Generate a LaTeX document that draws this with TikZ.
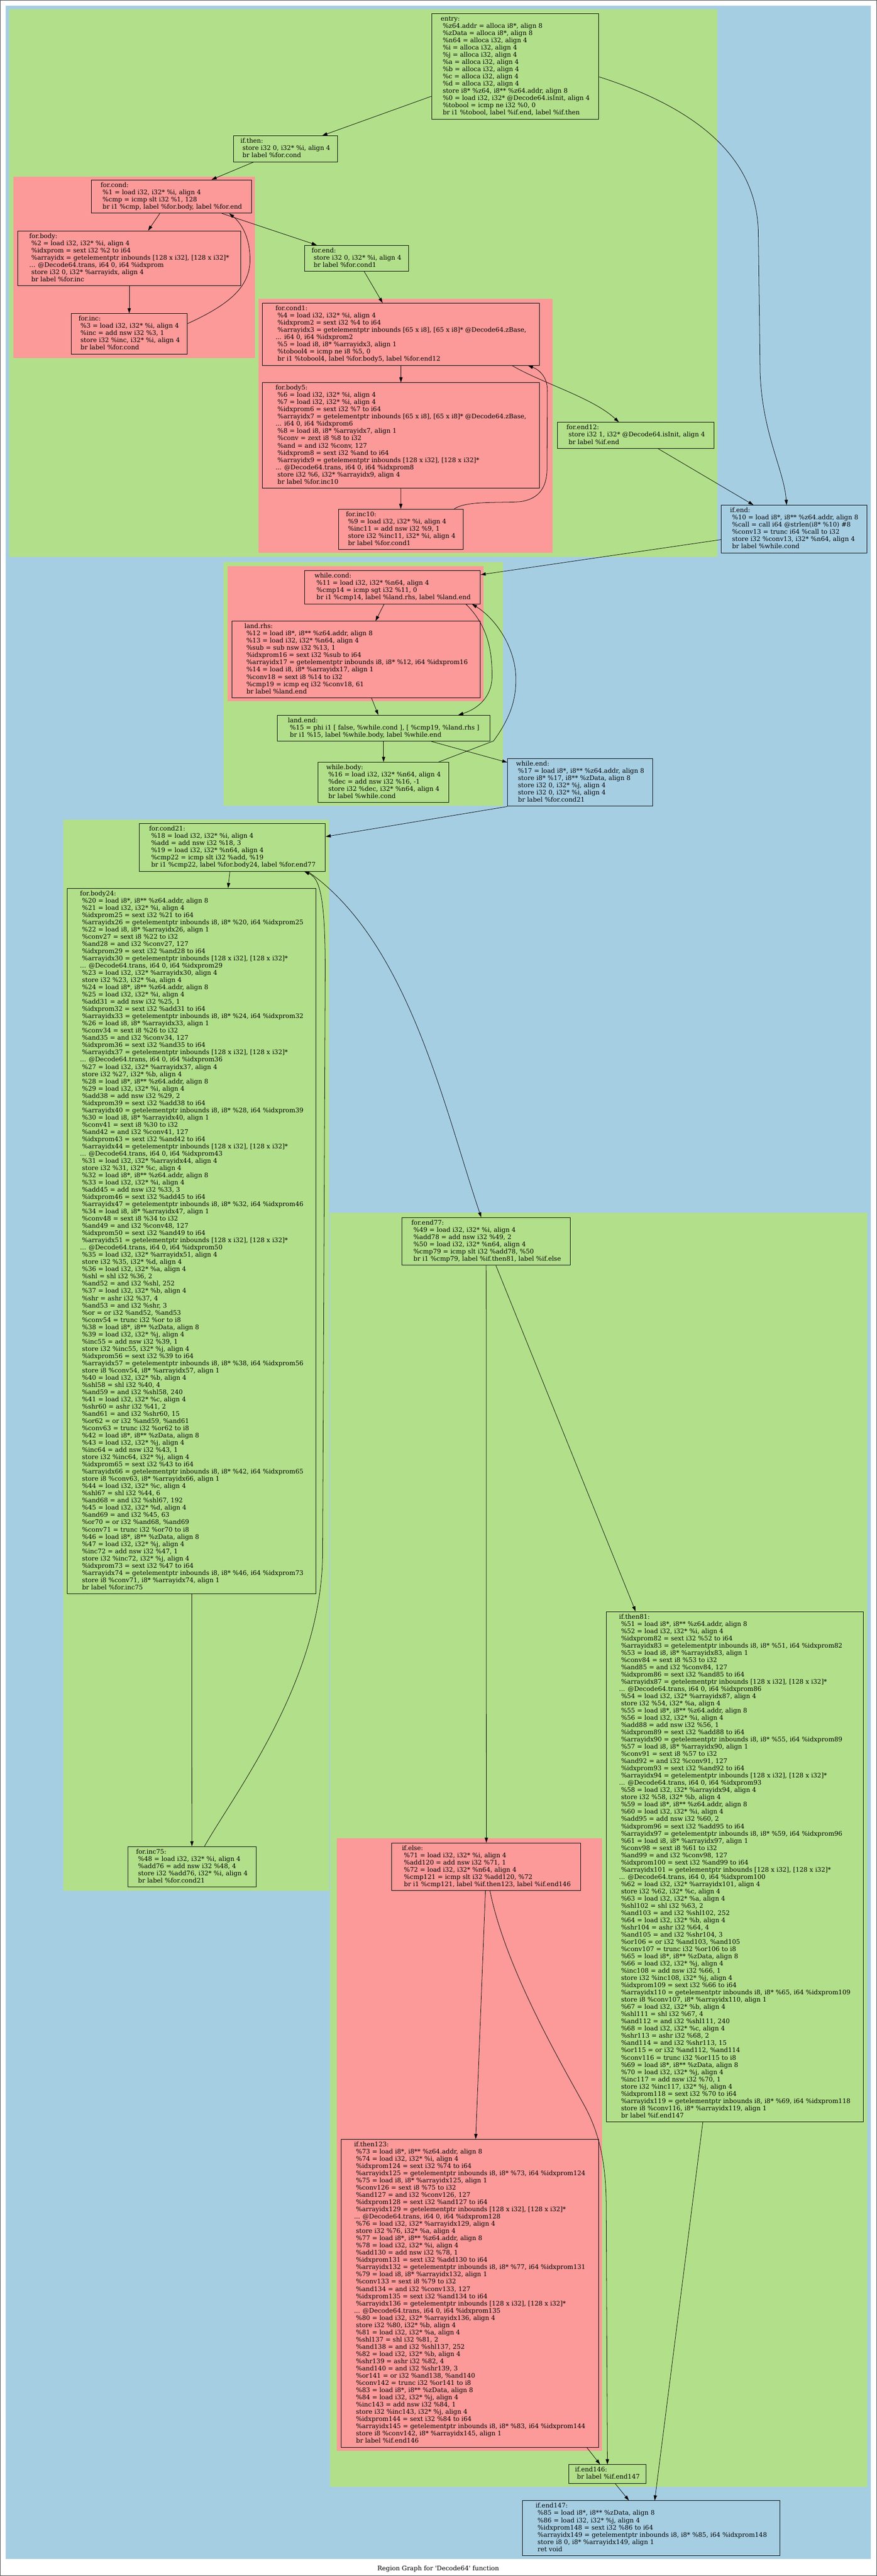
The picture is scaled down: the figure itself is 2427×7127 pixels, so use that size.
\documentclass[tikz,border=0pt]{standalone}
\usepackage{fontspec}
\usetikzlibrary{arrows.meta,calc}
\newfontfamily\irfont{DejaVu Serif}
\newcommand\blkfont{\irfont\fontsize{17.5}{20}\selectfont}
\newcommand\irtab[1]{\begin{tabular}{@{}l@{}}#1\end{tabular}}
\definecolor{grnclu}{HTML}{B2DF8A}
\definecolor{bluclu}{HTML}{A6CEE3}
\definecolor{redclu}{HTML}{FB9A99}
\tikzset{
  bb/.style={draw=black, line width=1.4pt, fill=#1, anchor=north west,
    inner xsep=11pt, inner ysep=6pt, font=\blkfont},
  flow/.style={draw=black, line width=1.1pt, -{Triangle[length=14pt,width=9pt]}},
}

\begin{document}
\begin{tikzpicture}[x=1pt,y=-1pt]
    \useasboundingbox (0,0) rectangle (2427,7127);
    \draw[gray!60!black, line width=1.5pt] (0.75,0.75) rectangle (2426.25,7126.25);

    % Draw clusters
    \fill[bluclu] (15,15) rectangle (2410,7080);
    \fill[grnclu] (25,26) rectangle (1986,1541);
    \fill[redclu] (37,489) rectangle (705,990);
    \fill[redclu] (715,827) rectangle (1530,1530);
    \fill[grnclu] (619,1555) rectangle (1393,2230);
    \fill[redclu] (630,1566) rectangle (1339,1940);
    \fill[grnclu] (176,2268) rectangle (911,5231);
    \fill[grnclu] (914,3356) rectangle (2400,6880);
    \fill[redclu] (932,5086) rectangle (1666,6780);

%Add blocks
    \node[bb=grnclu, minimum width=463] (entry) at (1194,37) {\irtab{entry:\\
      \ \%z64.addr = alloca i8*, align 8\\
      \ \%zData = alloca i8*, align 8\\
      \ \%n64 = alloca i32, align 4\\
      \ \%i = alloca i32, align 4\\
      \ \%j = alloca i32, align 4\\
      \ \%a = alloca i32, align 4\\
      \ \%b = alloca i32, align 4\\
      \ \%c = alloca i32, align 4\\
      \ \%d = alloca i32, align 4\\
      \ store i8* \%z64, i8** \%z64.addr, align 8\\
      \ \%0 = load i32, i32* @Decode64.isInit, align 4\\
      \ \%tobool = icmp ne i32 \%0, 0\\
      \ br i1 \%tobool, label \%if.end, label \%if.then}};
    \node[bb=grnclu, minimum width=288] (ifthen) at (645,375) {\irtab{if.then:\\
      \ store i32 0, i32* \%i, align 4\\
      \ br label \%for.cond}};
    \node[bb=redclu, minimum width=443] (forcond) at (252,497) {\irtab{for.cond:\\
      \ \%1 = load i32, i32* \%i, align 4\\
      \ \%cmp = icmp slt i32 \%1, 128\\
      \ br i1 \%cmp, label \%for.body, label \%for.end}};
    \node[bb=redclu, minimum width=618] (forbody) at (48,638) {\irtab{for.body:\\
      \ \%2 = load i32, i32* \%i, align 4\\
      \ \%idxprom = sext i32 \%2 to i64\\
      \ \%arrayidx = getelementptr inbounds [128 x i32], [128 x i32]*\\
      ... @Decode64.trans, i64 0, i64 \%idxprom\\
      \ store i32 0, i32* \%arrayidx, align 4\\
      \ br label \%for.inc}};
    \node[bb=redclu, minimum width=322] (forinc) at (196,867) {\irtab{for.inc:\\
      \ \%3 = load i32, i32* \%i, align 4\\
      \ \%inc = add nsw i32 \%3, 1\\
      \ store i32 \%inc, i32* \%i, align 4\\
      \ br label \%for.cond}};
    \node[bb=grnclu, minimum width=288] (forend) at (842,678) {\irtab{for.end:\\
      \ store i32 0, i32* \%i, align 4\\
      \ br label \%for.cond1}};
    \node[bb=redclu, minimum width=768] (forcond1) at (725,838) {\irtab{for.cond1:\\
      \ \%4 = load i32, i32* \%i, align 4\\
      \ \%idxprom2 = sext i32 \%4 to i64\\
      \ \%arrayidx3 = getelementptr inbounds [65 x i8], [65 x i8]* @Decode64.zBase,\\
      ... i64 0, i64 \%idxprom2\\
      \ \%5 = load i8, i8* \%arrayidx3, align 1\\
      \ \%tobool4 = icmp ne i8 \%5, 0\\
      \ br i1 \%tobool4, label \%for.body5, label \%for.end12}};
    \node[bb=redclu, minimum width=768] (forbody5) at (725,1058) {\irtab{for.body5:\\
      \ \%6 = load i32, i32* \%i, align 4\\
      \ \%7 = load i32, i32* \%i, align 4\\
      \ \%idxprom6 = sext i32 \%7 to i64\\
      \ \%arrayidx7 = getelementptr inbounds [65 x i8], [65 x i8]* @Decode64.zBase,\\
      ... i64 0, i64 \%idxprom6\\
      \ \%8 = load i8, i8* \%arrayidx7, align 1\\
      \ \%conv = zext i8 \%8 to i32\\
      \ \%and = and i32 \%conv, 127\\
      \ \%idxprom8 = sext i32 \%and to i64\\
      \ \%arrayidx9 = getelementptr inbounds [128 x i32], [128 x i32]*\\
      ... @Decode64.trans, i64 0, i64 \%idxprom8\\
      \ store i32 \%6, i32* \%arrayidx9, align 4\\
      \ br label \%for.inc10}};
    \node[bb=redclu, minimum width=345] (forinc10) at (936,1408) {\irtab{for.inc10:\\
      \ \%9 = load i32, i32* \%i, align 4\\
      \ \%inc11 = add nsw i32 \%9, 1\\
      \ store i32 \%inc11, i32* \%i, align 4\\
      \ br label \%for.cond1}};
    \node[bb=grnclu, minimum width=434] (forend12) at (1542,1168) {\irtab{for.end12:\\
      \ store i32 1, i32* @Decode64.isInit, align 4\\
      \ br label \%if.end}};
    \node[bb=bluclu, minimum width=403] (ifend) at (1996,1397) {\irtab{if.end:\\
      \ \%10 = load i8*, i8** \%z64.addr, align 8\\
      \ \%call = call i64 @strlen(i8* \%10) \#8\\
      \ \%conv13 = trunc i64 \%call to i32\\
      \ store i32 \%conv13, i32* \%n64, align 4\\
      \ br label \%while.cond}};
    \node[bb=redclu, minimum width=486] (whilecond) at (843,1578) {\irtab{while.cond:\\
      \ \%11 = load i32, i32* \%n64, align 4\\
      \ \%cmp14 = icmp sgt i32 \%11, 0\\
      \ br i1 \%cmp14, label \%land.rhs, label \%land.end}};
    \node[bb=redclu, minimum width=688] (landrhs) at (641,1718) {\irtab{land.rhs:\\
      \ \%12 = load i8*, i8** \%z64.addr, align 8\\
      \ \%13 = load i32, i32* \%n64, align 4\\
      \ \%sub = sub nsw i32 \%13, 1\\
      \ \%idxprom16 = sext i32 \%sub to i64\\
      \ \%arrayidx17 = getelementptr inbounds i8, i8* \%12, i64 \%idxprom16\\
      \ \%14 = load i8, i8* \%arrayidx17, align 1\\
      \ \%conv18 = sext i8 \%14 to i32\\
      \ \%cmp19 = icmp eq i32 \%conv18, 61\\
      \ br label \%land.end}};
    \node[bb=grnclu, minimum width=588] (landend) at (767,1978) {\irtab{land.end:\\
      \ \%15 = phi i1 [ false, \%while.cond ], [ \%cmp19, \%land.rhs ]\\
      \ br i1 \%15, label \%while.body, label \%while.end}};
    \node[bb=grnclu, minimum width=362] (whilebody) at (880,2108) {\irtab{while.body:\\
      \ \%16 = load i32, i32* \%n64, align 4\\
      \ \%dec = add nsw i32 \%16, -1\\
      \ store i32 \%dec, i32* \%n64, align 4\\
      \ br label \%while.cond}};
    \node[bb=bluclu, minimum width=402] (whileend) at (1404,2098) {\irtab{while.end:\\
      \ \%17 = load i8*, i8** \%z64.addr, align 8\\
      \ store i8* \%17, i8** \%zData, align 8\\
      \ store i32 0, i32* \%j, align 4\\
      \ store i32 0, i32* \%i, align 4\\
      \ br label \%for.cond21}};
    \node[bb=grnclu, minimum width=515] (forcond21) at (385,2278) {\irtab{for.cond21:\\
      \ \%18 = load i32, i32* \%i, align 4\\
      \ \%add = add nsw i32 \%18, 3\\
      \ \%19 = load i32, i32* \%n64, align 4\\
      \ \%cmp22 = icmp slt i32 \%add, \%19\\
      \ br i1 \%cmp22, label \%for.body24, label \%for.end77}};
    \node[bb=grnclu, minimum width=688] (forbody24) at (186,2457) {\irtab{for.body24:\\
      \ \%20 = load i8*, i8** \%z64.addr, align 8\\
      \ \%21 = load i32, i32* \%i, align 4\\
      \ \%idxprom25 = sext i32 \%21 to i64\\
      \ \%arrayidx26 = getelementptr inbounds i8, i8* \%20, i64 \%idxprom25\\
      \ \%22 = load i8, i8* \%arrayidx26, align 1\\
      \ \%conv27 = sext i8 \%22 to i32\\
      \ \%and28 = and i32 \%conv27, 127\\
      \ \%idxprom29 = sext i32 \%and28 to i64\\
      \ \%arrayidx30 = getelementptr inbounds [128 x i32], [128 x i32]*\\
      ... @Decode64.trans, i64 0, i64 \%idxprom29\\
      \ \%23 = load i32, i32* \%arrayidx30, align 4\\
      \ store i32 \%23, i32* \%a, align 4\\
      \ \%24 = load i8*, i8** \%z64.addr, align 8\\
      \ \%25 = load i32, i32* \%i, align 4\\
      \ \%add31 = add nsw i32 \%25, 1\\
      \ \%idxprom32 = sext i32 \%add31 to i64\\
      \ \%arrayidx33 = getelementptr inbounds i8, i8* \%24, i64 \%idxprom32\\
      \ \%26 = load i8, i8* \%arrayidx33, align 1\\
      \ \%conv34 = sext i8 \%26 to i32\\
      \ \%and35 = and i32 \%conv34, 127\\
      \ \%idxprom36 = sext i32 \%and35 to i64\\
      \ \%arrayidx37 = getelementptr inbounds [128 x i32], [128 x i32]*\\
      ... @Decode64.trans, i64 0, i64 \%idxprom36\\
      \ \%27 = load i32, i32* \%arrayidx37, align 4\\
      \ store i32 \%27, i32* \%b, align 4\\
      \ \%28 = load i8*, i8** \%z64.addr, align 8\\
      \ \%29 = load i32, i32* \%i, align 4\\
      \ \%add38 = add nsw i32 \%29, 2\\
      \ \%idxprom39 = sext i32 \%add38 to i64\\
      \ \%arrayidx40 = getelementptr inbounds i8, i8* \%28, i64 \%idxprom39\\
      \ \%30 = load i8, i8* \%arrayidx40, align 1\\
      \ \%conv41 = sext i8 \%30 to i32\\
      \ \%and42 = and i32 \%conv41, 127\\
      \ \%idxprom43 = sext i32 \%and42 to i64\\
      \ \%arrayidx44 = getelementptr inbounds [128 x i32], [128 x i32]*\\
      ... @Decode64.trans, i64 0, i64 \%idxprom43\\
      \ \%31 = load i32, i32* \%arrayidx44, align 4\\
      \ store i32 \%31, i32* \%c, align 4\\
      \ \%32 = load i8*, i8** \%z64.addr, align 8\\
      \ \%33 = load i32, i32* \%i, align 4\\
      \ \%add45 = add nsw i32 \%33, 3\\
      \ \%idxprom46 = sext i32 \%add45 to i64\\
      \ \%arrayidx47 = getelementptr inbounds i8, i8* \%32, i64 \%idxprom46\\
      \ \%34 = load i8, i8* \%arrayidx47, align 1\\
      \ \%conv48 = sext i8 \%34 to i32\\
      \ \%and49 = and i32 \%conv48, 127\\
      \ \%idxprom50 = sext i32 \%and49 to i64\\
      \ \%arrayidx51 = getelementptr inbounds [128 x i32], [128 x i32]*\\
      ... @Decode64.trans, i64 0, i64 \%idxprom50\\
      \ \%35 = load i32, i32* \%arrayidx51, align 4\\
      \ store i32 \%35, i32* \%d, align 4\\
      \ \%36 = load i32, i32* \%a, align 4\\
      \ \%shl = shl i32 \%36, 2\\
      \ \%and52 = and i32 \%shl, 252\\
      \ \%37 = load i32, i32* \%b, align 4\\
      \ \%shr = ashr i32 \%37, 4\\
      \ \%and53 = and i32 \%shr, 3\\
      \ \%or = or i32 \%and52, \%and53\\
      \ \%conv54 = trunc i32 \%or to i8\\
      \ \%38 = load i8*, i8** \%zData, align 8\\
      \ \%39 = load i32, i32* \%j, align 4\\
      \ \%inc55 = add nsw i32 \%39, 1\\
      \ store i32 \%inc55, i32* \%j, align 4\\
      \ \%idxprom56 = sext i32 \%39 to i64\\
      \ \%arrayidx57 = getelementptr inbounds i8, i8* \%38, i64 \%idxprom56\\
      \ store i8 \%conv54, i8* \%arrayidx57, align 1\\
      \ \%40 = load i32, i32* \%b, align 4\\
      \ \%shl58 = shl i32 \%40, 4\\
      \ \%and59 = and i32 \%shl58, 240\\
      \ \%41 = load i32, i32* \%c, align 4\\
      \ \%shr60 = ashr i32 \%41, 2\\
      \ \%and61 = and i32 \%shr60, 15\\
      \ \%or62 = or i32 \%and59, \%and61\\
      \ \%conv63 = trunc i32 \%or62 to i8\\
      \ \%42 = load i8*, i8** \%zData, align 8\\
      \ \%43 = load i32, i32* \%j, align 4\\
      \ \%inc64 = add nsw i32 \%43, 1\\
      \ store i32 \%inc64, i32* \%j, align 4\\
      \ \%idxprom65 = sext i32 \%43 to i64\\
      \ \%arrayidx66 = getelementptr inbounds i8, i8* \%42, i64 \%idxprom65\\
      \ store i8 \%conv63, i8* \%arrayidx66, align 1\\
      \ \%44 = load i32, i32* \%c, align 4\\
      \ \%shl67 = shl i32 \%44, 6\\
      \ \%and68 = and i32 \%shl67, 192\\
      \ \%45 = load i32, i32* \%d, align 4\\
      \ \%and69 = and i32 \%45, 63\\
      \ \%or70 = or i32 \%and68, \%and69\\
      \ \%conv71 = trunc i32 \%or70 to i8\\
      \ \%46 = load i8*, i8** \%zData, align 8\\
      \ \%47 = load i32, i32* \%j, align 4\\
      \ \%inc72 = add nsw i32 \%47, 1\\
      \ store i32 \%inc72, i32* \%j, align 4\\
      \ \%idxprom73 = sext i32 \%47 to i64\\
      \ \%arrayidx74 = getelementptr inbounds i8, i8* \%46, i64 \%idxprom73\\
      \ store i8 \%conv71, i8* \%arrayidx74, align 1\\
      \ br label \%for.inc75}};
    \node[bb=grnclu, minimum width=355] (forinc75) at (353,5108) {\irtab{for.inc75:\\
      \ \%48 = load i32, i32* \%i, align 4\\
      \ \%add76 = add nsw i32 \%48, 4\\
      \ store i32 \%add76, i32* \%i, align 4\\
      \ br label \%for.cond21}};
    \node[bb=grnclu, minimum width=466] (forend77) at (1112,3368) {\irtab{for.end77:\\
      \ \%49 = load i32, i32* \%i, align 4\\
      \ \%add78 = add nsw i32 \%49, 2\\
      \ \%50 = load i32, i32* \%n64, align 4\\
      \ \%cmp79 = icmp slt i32 \%add78, \%50\\
      \ br i1 \%cmp79, label \%if.then81, label \%if.else}};
    \node[bb=grnclu, minimum width=712] (ifthen81) at (1677,4458) {\irtab{if.then81:\\
      \ \%51 = load i8*, i8** \%z64.addr, align 8\\
      \ \%52 = load i32, i32* \%i, align 4\\
      \ \%idxprom82 = sext i32 \%52 to i64\\
      \ \%arrayidx83 = getelementptr inbounds i8, i8* \%51, i64 \%idxprom82\\
      \ \%53 = load i8, i8* \%arrayidx83, align 1\\
      \ \%conv84 = sext i8 \%53 to i32\\
      \ \%and85 = and i32 \%conv84, 127\\
      \ \%idxprom86 = sext i32 \%and85 to i64\\
      \ \%arrayidx87 = getelementptr inbounds [128 x i32], [128 x i32]*\\
      ... @Decode64.trans, i64 0, i64 \%idxprom86\\
      \ \%54 = load i32, i32* \%arrayidx87, align 4\\
      \ store i32 \%54, i32* \%a, align 4\\
      \ \%55 = load i8*, i8** \%z64.addr, align 8\\
      \ \%56 = load i32, i32* \%i, align 4\\
      \ \%add88 = add nsw i32 \%56, 1\\
      \ \%idxprom89 = sext i32 \%add88 to i64\\
      \ \%arrayidx90 = getelementptr inbounds i8, i8* \%55, i64 \%idxprom89\\
      \ \%57 = load i8, i8* \%arrayidx90, align 1\\
      \ \%conv91 = sext i8 \%57 to i32\\
      \ \%and92 = and i32 \%conv91, 127\\
      \ \%idxprom93 = sext i32 \%and92 to i64\\
      \ \%arrayidx94 = getelementptr inbounds [128 x i32], [128 x i32]*\\
      ... @Decode64.trans, i64 0, i64 \%idxprom93\\
      \ \%58 = load i32, i32* \%arrayidx94, align 4\\
      \ store i32 \%58, i32* \%b, align 4\\
      \ \%59 = load i8*, i8** \%z64.addr, align 8\\
      \ \%60 = load i32, i32* \%i, align 4\\
      \ \%add95 = add nsw i32 \%60, 2\\
      \ \%idxprom96 = sext i32 \%add95 to i64\\
      \ \%arrayidx97 = getelementptr inbounds i8, i8* \%59, i64 \%idxprom96\\
      \ \%61 = load i8, i8* \%arrayidx97, align 1\\
      \ \%conv98 = sext i8 \%61 to i32\\
      \ \%and99 = and i32 \%conv98, 127\\
      \ \%idxprom100 = sext i32 \%and99 to i64\\
      \ \%arrayidx101 = getelementptr inbounds [128 x i32], [128 x i32]*\\
      ... @Decode64.trans, i64 0, i64 \%idxprom100\\
      \ \%62 = load i32, i32* \%arrayidx101, align 4\\
      \ store i32 \%62, i32* \%c, align 4\\
      \ \%63 = load i32, i32* \%a, align 4\\
      \ \%shl102 = shl i32 \%63, 2\\
      \ \%and103 = and i32 \%shl102, 252\\
      \ \%64 = load i32, i32* \%b, align 4\\
      \ \%shr104 = ashr i32 \%64, 4\\
      \ \%and105 = and i32 \%shr104, 3\\
      \ \%or106 = or i32 \%and103, \%and105\\
      \ \%conv107 = trunc i32 \%or106 to i8\\
      \ \%65 = load i8*, i8** \%zData, align 8\\
      \ \%66 = load i32, i32* \%j, align 4\\
      \ \%inc108 = add nsw i32 \%66, 1\\
      \ store i32 \%inc108, i32* \%j, align 4\\
      \ \%idxprom109 = sext i32 \%66 to i64\\
      \ \%arrayidx110 = getelementptr inbounds i8, i8* \%65, i64 \%idxprom109\\
      \ store i8 \%conv107, i8* \%arrayidx110, align 1\\
      \ \%67 = load i32, i32* \%b, align 4\\
      \ \%shl111 = shl i32 \%67, 4\\
      \ \%and112 = and i32 \%shl111, 240\\
      \ \%68 = load i32, i32* \%c, align 4\\
      \ \%shr113 = ashr i32 \%68, 2\\
      \ \%and114 = and i32 \%shr113, 15\\
      \ \%or115 = or i32 \%and112, \%and114\\
      \ \%conv116 = trunc i32 \%or115 to i8\\
      \ \%69 = load i8*, i8** \%zData, align 8\\
      \ \%70 = load i32, i32* \%j, align 4\\
      \ \%inc117 = add nsw i32 \%70, 1\\
      \ store i32 \%inc117, i32* \%j, align 4\\
      \ \%idxprom118 = sext i32 \%70 to i64\\
      \ \%arrayidx119 = getelementptr inbounds i8, i8* \%69, i64 \%idxprom118\\
      \ store i8 \%conv116, i8* \%arrayidx119, align 1\\
      \ br label \%if.end147}};
    \node[bb=redclu, minimum width=523] (ifelse) at (1084,5098) {\irtab{if.else:\\
      \ \%71 = load i32, i32* \%i, align 4\\
      \ \%add120 = add nsw i32 \%71, 1\\
      \ \%72 = load i32, i32* \%n64, align 4\\
      \ \%cmp121 = icmp slt i32 \%add120, \%72\\
      \ br i1 \%cmp121, label \%if.then123, label \%if.end146}};
    \node[bb=redclu, minimum width=713] (ifthen123) at (943,5918) {\irtab{if.then123:\\
      \ \%73 = load i8*, i8** \%z64.addr, align 8\\
      \ \%74 = load i32, i32* \%i, align 4\\
      \ \%idxprom124 = sext i32 \%74 to i64\\
      \ \%arrayidx125 = getelementptr inbounds i8, i8* \%73, i64 \%idxprom124\\
      \ \%75 = load i8, i8* \%arrayidx125, align 1\\
      \ \%conv126 = sext i8 \%75 to i32\\
      \ \%and127 = and i32 \%conv126, 127\\
      \ \%idxprom128 = sext i32 \%and127 to i64\\
      \ \%arrayidx129 = getelementptr inbounds [128 x i32], [128 x i32]*\\
      ... @Decode64.trans, i64 0, i64 \%idxprom128\\
      \ \%76 = load i32, i32* \%arrayidx129, align 4\\
      \ store i32 \%76, i32* \%a, align 4\\
      \ \%77 = load i8*, i8** \%z64.addr, align 8\\
      \ \%78 = load i32, i32* \%i, align 4\\
      \ \%add130 = add nsw i32 \%78, 1\\
      \ \%idxprom131 = sext i32 \%add130 to i64\\
      \ \%arrayidx132 = getelementptr inbounds i8, i8* \%77, i64 \%idxprom131\\
      \ \%79 = load i8, i8* \%arrayidx132, align 1\\
      \ \%conv133 = sext i8 \%79 to i32\\
      \ \%and134 = and i32 \%conv133, 127\\
      \ \%idxprom135 = sext i32 \%and134 to i64\\
      \ \%arrayidx136 = getelementptr inbounds [128 x i32], [128 x i32]*\\
      ... @Decode64.trans, i64 0, i64 \%idxprom135\\
      \ \%80 = load i32, i32* \%arrayidx136, align 4\\
      \ store i32 \%80, i32* \%b, align 4\\
      \ \%81 = load i32, i32* \%a, align 4\\
      \ \%shl137 = shl i32 \%81, 2\\
      \ \%and138 = and i32 \%shl137, 252\\
      \ \%82 = load i32, i32* \%b, align 4\\
      \ \%shr139 = ashr i32 \%82, 4\\
      \ \%and140 = and i32 \%shr139, 3\\
      \ \%or141 = or i32 \%and138, \%and140\\
      \ \%conv142 = trunc i32 \%or141 to i8\\
      \ \%83 = load i8*, i8** \%zData, align 8\\
      \ \%84 = load i32, i32* \%j, align 4\\
      \ \%inc143 = add nsw i32 \%84, 1\\
      \ store i32 \%inc143, i32* \%j, align 4\\
      \ \%idxprom144 = sext i32 \%84 to i64\\
      \ \%arrayidx145 = getelementptr inbounds i8, i8* \%83, i64 \%idxprom144\\
      \ store i8 \%conv142, i8* \%arrayidx145, align 1\\
      \ br label \%if.end146}};
    \node[bb=grnclu, minimum width=215] (ifend146) at (1573,6818) {\irtab{if.end146:\\
      \ br label \%if.end147}};
    \node[bb=bluclu, minimum width=712] (ifend147) at (1446,6918) {\irtab{if.end147:\\
      \ \%85 = load i8*, i8** \%zData, align 8\\
      \ \%86 = load i32, i32* \%j, align 4\\
      \ \%idxprom148 = sext i32 \%86 to i64\\
      \ \%arrayidx149 = getelementptr inbounds i8, i8* \%85, i64 \%idxprom148\\
      \ store i8 0, i8* \%arrayidx149, align 1\\
      \ ret void}};

    \node[font=\blkfont, anchor=base] (title) at (1213,7112)
      {Region Graph for \textquotesingle Decode64\textquotesingle\ function};

%Add edges
    \draw[flow] (entry) -- (ifthen);
    \draw[flow] ([yshift=-29]entry.east) .. controls (1900,290) and (2099,420) .. (2099,650)
        -- (2104,1032) .. controls (2110,1200) and (2170,1300) .. ([xshift=-21]ifend.north);
    \draw[flow] (ifthen) -- (forcond);
    \draw[flow] (forcond) -- (forbody);
    \draw[flow] (forcond) -- (forend);
    \draw[flow] (forbody) -- (forinc);
    \draw[flow] (forinc.10) .. controls (640,840) and (695,790) .. (692,712)
        .. controls (690,650) and (665,615) .. ([xshift=-62]forcond.south east);
    \draw[flow] (forend) -- (forcond1);
    \draw[flow] (forcond1) -- (forbody5);
    \draw[flow] ([xshift=-77]forcond1.south east) .. controls (1500,1060) and (1640,1100) .. ([xshift=171]forend12.north west);
    \draw[flow] (forbody5) -- (forinc10);
    \draw[flow] ([xshift=-25]forinc10.north east) .. controls (1290,1385) and (1380,1392) .. (1440,1388)
        .. controls (1495,1380) and (1513,1345) .. (1514,1300) -- (1515,1080)
        .. controls (1515,1040) and (1490,1022) .. ([xshift=-33]forcond1.south east);
    \draw[flow] (forend12) -- (ifend);
    \draw[flow] (ifend) -- (whilecond);
    \draw[flow] (whilecond) -- (landrhs);
    \draw[flow] ([xshift=-41]whilecond.south east) .. controls (1350,1730) and (1362,1800) .. (1362,1870)
        .. controls (1362,1930) and (1320,1962) .. ([xshift=-88]landend.north east);
    \draw[flow] (landrhs) -- (landend);
    \draw[flow] (landend) -- (whilebody);
    \draw[flow] (landend) -- (whileend);
    \draw[flow] ([xshift=-29]whilebody.north east) -- (1366,2050) .. controls (1410,1990) and (1428,1940) .. (1428,1880)
        .. controls (1428,1790) and (1370,1710) .. ([xshift=-24]whilecond.south east);
    \draw[flow] (whileend.south west) -- ([yshift=30]forcond21.east);
    \draw[flow] (forcond21) -- (forbody24);
    \draw[flow] ([xshift=-49]forcond21.south east) .. controls (1131,2606) and (1230,3068) .. ([xshift=220]forend77.north west);
    \draw[flow] (forbody24) -- (forinc75);
    \draw[flow] ([xshift=213]forinc75.north west) .. controls (650,4960) and (890,4650) .. (893,4300)
        -- (900,2700) .. controls (901,2480) and (885,2430) .. ([xshift=-59]forcond21.south east);
    \draw[flow] (forend77) -- (ifthen81);
    \draw[flow] (forend77) -- (ifelse);
    \draw[flow] (ifthen81) -- (ifend147);
    \draw[flow] (ifelse) -- (ifthen123);
    \draw[flow] ([xshift=10]ifelse.south) .. controls (1400,5450) and (1560,5720) .. (1620,5830)
        .. controls (1665,5915) and (1677,6000) .. (1678,6100) -- (ifend146.north);
    \draw[flow] (ifthen123) -- (ifend146);
    \draw[flow] (ifend146) -- (ifend147);

\end{tikzpicture}
\end{document}
